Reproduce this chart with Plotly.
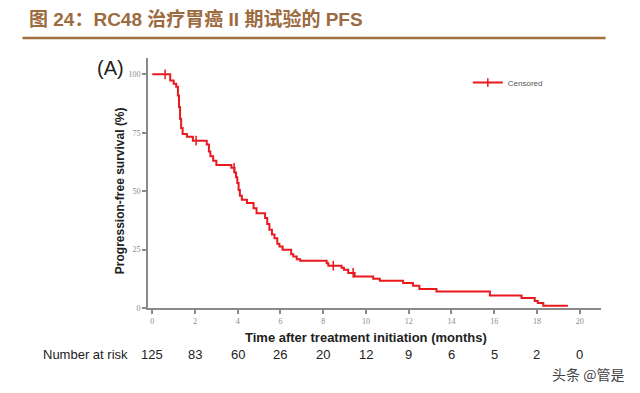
import plotly.graph_objects as go

# ---- data ----
months = [0, 0.84, 1.0, 1.12, 1.2, 1.25, 1.3, 1.35, 1.42, 1.62, 1.9, 2.55, 2.65, 2.72, 2.85,
          3.0, 3.7, 3.85, 3.92, 3.98, 4.04, 4.1, 4.19, 4.43, 4.74, 4.88, 5.28, 5.38, 5.48,
          5.6, 5.72, 5.85, 5.95, 6.1, 6.5, 6.6, 6.76, 6.92, 8.16, 8.24, 8.86, 8.97, 9.17,
          9.47, 10.34, 10.65, 11.74, 12.2, 12.5, 13.3, 15.8, 17.28, 17.9, 18.04, 18.3, 19.45]
pfs = [100, 97.4, 96, 94.7, 91, 86, 81, 77, 74.5, 73.3, 71.6, 70, 67, 65, 63,
       61.2, 60, 58, 56, 53.5, 50.5, 48, 46.3, 44.9, 42.7, 40.6, 38.5, 36, 33.5,
       31.5, 29.9, 27.5, 26.3, 24.9, 23, 22, 20.9, 20.2, 19.2, 18.1, 17.2, 16.4, 15,
       13.5, 12.5, 11.7, 10.7, 9.5, 8.1, 7.1, 5.3, 4.3, 3.0, 2.1, 1.0, 1.0]
censor_months = [0.6, 2.05, 3.83, 8.47, 9.4]
censor_pfs = [100, 71.6, 60, 18.1, 15]

risk_months = [0, 2, 4, 6, 8, 10, 12, 14, 16, 18, 20]
risk_counts = [125, 83, 60, 26, 20, 12, 9, 6, 5, 2, 0]

x_ticks = [0, 2, 4, 6, 8, 10, 12, 14, 16, 18, 20]
y_ticks = [0, 25, 50, 75, 100]

RED = "#E8191F"
GRAY = "#8A8A8A"

# the page body has an 8px margin: draw the figure 8px smaller and shift coordinates
OFF = 8
W, HT = 640 - OFF, 393 - OFF

fig = go.Figure()
fig.add_trace(go.Scatter(x=months, y=pfs, mode="lines", line=dict(color=RED, width=2, shape="hv"),
                         showlegend=False, hoverinfo="skip"))
fig.add_trace(go.Scatter(x=censor_months, y=censor_pfs, mode="markers", name="Censored",
                         marker=dict(symbol="line-ns-open", size=7, color=RED,
                                     line=dict(color=RED, width=1.5)),
                         showlegend=False))
# legend sample
fig.add_trace(go.Scatter(x=[None], y=[None], mode="lines+markers", name="Censored",
                         line=dict(color=RED, width=2),
                         marker=dict(symbol="line-ns-open", size=6, color=RED,
                                     line=dict(color=RED, width=1.5))))

# plot area in reference pixel coordinates
PL, PR, PT, PB = 147.7, 601.4, 58.0, 308.3
L, R, T, B = PL - OFF, 640 - PR, PT - OFF, 393 - PB
H = HT - T - B
PW = W - L - R

fig.update_layout(
    width=W, height=HT,
    margin=dict(l=L, r=R, t=T, b=B),
    paper_bgcolor="white", plot_bgcolor="white",
    font=dict(family="Liberation Sans, Arial, sans-serif"),
    legend=dict(x=(468 - PL) / PW, y=(PB - 68) / H, xanchor="left", yanchor="top",
                bgcolor="rgba(0,0,0,0)", font=dict(size=8, color="#555555"), itemwidth=30),
    xaxis=dict(range=[-0.2, 21], tickvals=x_ticks, ticks="outside", ticklen=4, tickwidth=1.5,
               tickcolor=GRAY, showline=True, linecolor=GRAY, linewidth=2, showgrid=False,
               zeroline=False, tickfont=dict(family="Liberation Serif, serif", size=8, color=GRAY)),
    yaxis=dict(range=[0, 107], tickvals=y_ticks, ticks="outside", ticklen=4, tickwidth=1.5,
               tickcolor=GRAY, showline=True, linecolor=GRAY, linewidth=2, showgrid=False,
               zeroline=False, tickfont=dict(family="Liberation Serif, serif", size=8, color=GRAY)),
)

def py(pix):
    return (PB - pix) / H

def px(pix):
    return (pix - PL) / PW

ann = []
ann.append(dict(text="<b>图 24：RC48 治疗胃癌 II 期试验的 PFS</b>", xref="paper", yref="paper",
                x=px(27), y=py(18.5), xanchor="left", yanchor="middle", showarrow=False,
                font=dict(family="Liberation Sans, Noto Sans CJK SC", size=19, color="#9C6B3F")))
ann.append(dict(text="(A)", xref="paper", yref="paper", x=px(110), y=py(68),
                xanchor="center", yanchor="middle", showarrow=False,
                font=dict(family="Liberation Sans, Arial", size=20, color="#222222")))
ann.append(dict(text="<b>Progression-free survival (%)</b>", xref="paper", yref="paper",
                x=px(119), y=py(191), textangle=-90, xanchor="center", yanchor="middle",
                showarrow=False, font=dict(family="Liberation Sans, Arial", size=12, color="#222222")))
ann.append(dict(text="<b>Time after treatment initiation (months)</b>", xref="paper", yref="paper",
                x=px(366), y=py(338), xanchor="center", yanchor="middle", showarrow=False,
                font=dict(family="Liberation Sans, Arial", size=13, color="#222222")))
ann.append(dict(text="Number at risk", xref="paper", yref="paper", x=px(41), y=py(355),
                xanchor="left", yanchor="middle", showarrow=False,
                font=dict(family="Liberation Sans, Arial", size=13, color="#222222")))
for m, c in zip(risk_months, risk_counts):
    ann.append(dict(text=str(c), xref="x", yref="paper", x=m, y=py(355), xanchor="center",
                    yanchor="middle", showarrow=False,
                    font=dict(family="Liberation Sans, Arial", size=13, color="#222222")))
ann.append(dict(text="头条 @管是", xref="paper", yref="paper", x=px(626), y=py(374),
                xanchor="right", yanchor="middle", showarrow=False,
                font=dict(family="Noto Sans CJK SC", size=14, color="#444444")))
fig.update_layout(annotations=ann)

fig.add_shape(type="line", xref="paper", yref="paper", x0=px(22), x1=px(606), y0=py(38), y1=py(38),
              line=dict(color="#A0703F", width=2.5))

fig.write_html("out.html")
